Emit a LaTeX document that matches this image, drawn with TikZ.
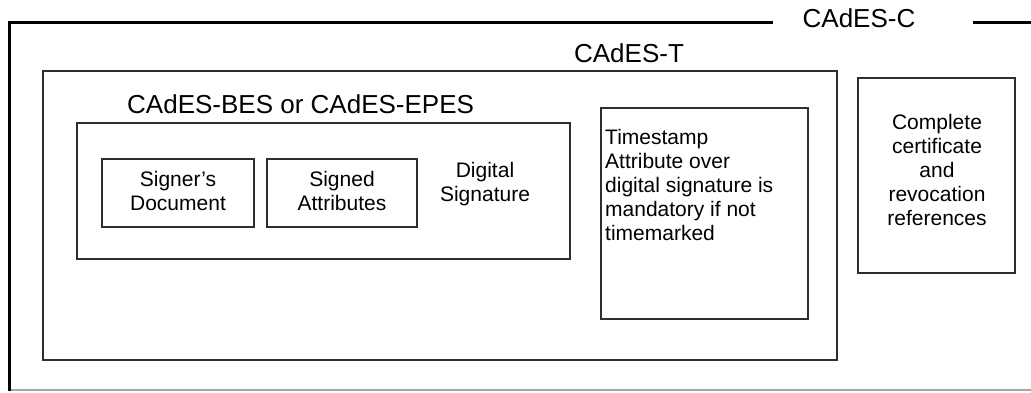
\documentclass[tikz,border=0pt]{standalone}
\usepackage{fontspec}
\setmainfont{Liberation Sans}
\newcommand\mlines[1]{\begin{tabular}[t]{@{}c@{}}#1\end{tabular}}
\newcommand\mlinesl[1]{\begin{tabular}[t]{@{}l@{}}#1\end{tabular}}
\begin{document}
\begin{tikzpicture}[x=1pt,y=-1pt,
  box/.style={draw=black!82, line width=1.6pt, inner sep=0pt, outer sep=0pt},
  frame/.style={draw=black, line width=3pt},
  title/.style={font=\fontsize{26}{30}\selectfont, anchor=base, inner sep=0pt},
  txt/.style={font=\fontsize{21}{24}\selectfont\renewcommand\arraystretch{1}, anchor=base, inner sep=0pt},
]
\useasboundingbox[fill=white] (0,0) rectangle (1031,392);
% outer CAdES-C frame
\coordinate (fTL) at (9.5,22);
\coordinate (fBL) at (9.5,390);
\coordinate (fGapL) at (773,22);
\coordinate (fGapR) at (973,22);
\coordinate (fTR) at (1031,22);
\coordinate (fBR) at (1031,390);
\draw[black!35, line width=1.5pt] (fBL) -- (fBR);
\draw[frame] (fGapL) -- (fTL) -- ([yshift=-0.75pt]fBL);
\draw[frame] (fGapR) -- (fTR);
\node[title] (tC) at (859,27) {CAdES-C};
% CAdES-T
\node[box, minimum width=794, minimum height=289] (cadesT) at (440,215.5) {};
\node[title] (tT) at (629,62) {CAdES-T};
% CAdES-BES
\node[box, minimum width=493, minimum height=136] (bes) at (323.5,191) {};
\node[title, anchor=base west] (tB) at (127,113) {CAdES-BES or CAdES-EPES};
\node[box, minimum width=152, minimum height=68] (signer) at (178,193) {};
\node[txt] (signerT) at (178,186) {\mlines{Signer's\\Document}};
\node[box, minimum width=150, minimum height=68] (signed) at (342,193) {};
\node[txt] (signedT) at (342,186) {\mlines{Signed\\Attributes}};
\node[txt] (digT) at (485,177) {\mlines{Digital\\Signature}};
% timestamp
\node[box, minimum width=207, minimum height=211] (ts) at (704.5,213.5) {};
\node[txt, anchor=base west] (tsT) at (605,144) {\mlinesl{Timestamp\\Attribute over\\digital signature is\\mandatory if not\\timemarked}};
% complete refs
\node[box, minimum width=157, minimum height=195] (compl) at (936.5,175.5) {};
\node[txt] (complT) at (937,129) {\mlines{Complete\\certificate\\and\\revocation\\references}};
\end{tikzpicture}
\end{document}
